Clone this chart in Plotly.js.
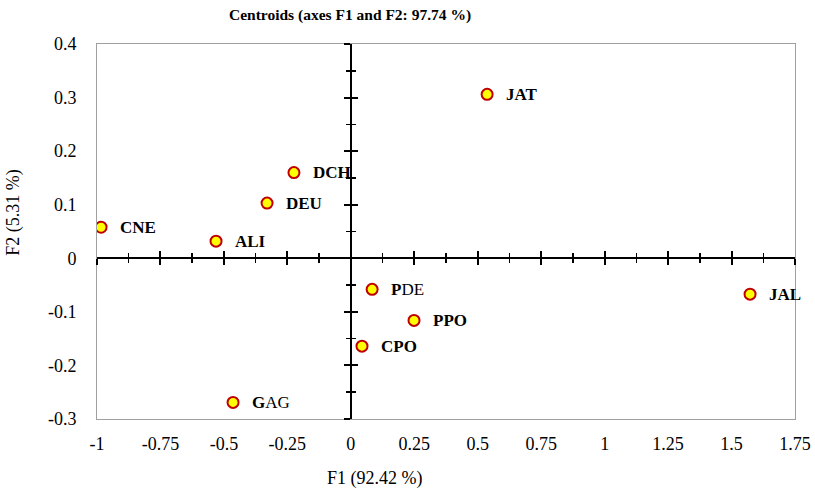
<!DOCTYPE html>
<html>
<head>
<meta charset="utf-8">
<script src="https://cdn.plot.ly/plotly-3.0.1.min.js"></script>
<style>html,body{margin:0;padding:0;background:#fff;}</style>
</head>
<body>
<div id="chart" style="width:815px;height:493px;"></div>
<script>
// Group centroids on the first two discriminant factors
const groups = ['CNE', 'ALI', 'DEU', 'DCH', 'JAT', 'PDE', 'PPO', 'CPO', 'GAG', 'JAL'];
const labels = ['<b>CNE</b>', '<b>ALI</b>', '<b>DEU</b>', '<b>DCH</b>', '<b>JAT</b>',
                '<b>P</b>DE', '<b>PPO</b>', '<b>CPO</b>', '<b>G</b>AG', '<b>JAL</b>'];
const f1 = [-0.984, -0.531, -0.330, -0.224, 0.537, 0.084, 0.249, 0.044, -0.464, 1.573];
const f2 = [0.058, 0.032, 0.103, 0.160, 0.306, -0.058, -0.116, -0.164, -0.269, -0.067];

const xRange = [-1, 1.75];
const yRange = [-0.3, 0.4];
const xTicks = [-1, -0.75, -0.5, -0.25, 0, 0.25, 0.5, 0.75, 1, 1.25, 1.5, 1.75];
const xTickText = ['-1', '-0.75', '-0.5', '-0.25', '0', '0.25', '0.5', '0.75', '1', '1.25', '1.5', '1.75'];
const yTicks = [-0.3, -0.2, -0.1, 0, 0.1, 0.2, 0.3, 0.4];
const yTickText = ['-0.3', '-0.2', '-0.1', '0', '0.1', '0.2', '0.3', '0.4'];

const FONT = 'Liberation Serif, Times New Roman, serif';

// fraction of each domain where the other axis' zero sits
const xZeroPos = (0 - yRange[0]) / (yRange[1] - yRange[0]);
const yZeroPos = (0 - xRange[0]) / (xRange[1] - xRange[0]);

const points = {
  type: 'scatter', mode: 'markers',
  x: f1, y: f2, text: groups, hoverinfo: 'text',
  marker: {size: 11, color: '#ffff00', line: {color: '#c00000', width: 2}},
  showlegend: false
};

// empty traces so the crossing axes get their own subplots
const holder = (xa, ya) => ({type: 'scatter', x: [], y: [], xaxis: xa, yaxis: ya,
                             showlegend: false, hoverinfo: 'skip'});

// crossing axis through zero, ticks on one side
function crossX(side) {
  return {
    overlaying: 'x', anchor: 'free', position: xZeroPos, range: xRange,
    showline: true, linecolor: '#000', linewidth: 2,
    tickmode: 'linear', tick0: 0, dtick: 0.25,
    ticks: side, ticklen: 6, tickwidth: 2, tickcolor: '#000',
    minor: {ticks: side, ticklen: 4, tickwidth: 1.5, tickcolor: '#000', dtick: 0.125, tick0: 0, showgrid: false},
    showticklabels: false, showgrid: false, zeroline: false, fixedrange: true
  };
}
function crossY(side) {
  return {
    overlaying: 'y', anchor: 'free', position: yZeroPos, range: yRange,
    showline: true, linecolor: '#000', linewidth: 2,
    tickmode: 'linear', tick0: 0, dtick: 0.1,
    ticks: side, ticklen: 6, tickwidth: 2, tickcolor: '#000',
    minor: {ticks: side, ticklen: 4, tickwidth: 1.5, tickcolor: '#000', dtick: 0.05, tick0: 0, showgrid: false},
    showticklabels: false, showgrid: false, zeroline: false, fixedrange: true
  };
}

const annotations = groups.map((g, i) => ({
  x: f1[i], y: f2[i], xref: 'x', yref: 'y',
  text: labels[i], showarrow: false,
  xanchor: 'left', yanchor: 'middle', xshift: 17, yshift: 0,
  font: {family: FONT, size: 17, color: '#000'}
}));

annotations.push({
  text: 'F1 (92.42 %)', xref: 'paper', yref: 'paper',
  x: (375 - 97) / 698, y: 0, yshift: -59,
  xanchor: 'center', yanchor: 'middle', showarrow: false,
  font: {family: FONT, size: 18, color: '#000'}
});
annotations.push({
  text: 'F2 (5.31 %)', xref: 'paper', yref: 'paper',
  x: 0, y: 0.55, xshift: -83, textangle: -90,
  xanchor: 'center', yanchor: 'middle', showarrow: false,
  font: {family: FONT, size: 18, color: '#000'}
});

const layout = {
  width: 815, height: 493,
  margin: {l: 97, r: 20, t: 44, b: 74},
  paper_bgcolor: '#fff', plot_bgcolor: '#fff',
  font: {family: FONT, size: 18, color: '#000'},
  title: {
    text: '<b>Centroids (axes F1 and F2: 97.74 %)</b>',
    x: 350 / 815, xanchor: 'center', xref: 'container',
    y: 1 - 15 / 493, yanchor: 'middle', yref: 'container',
    font: {family: FONT, size: 15.5, color: '#000'}
  },
  xaxis: {
    range: xRange, tickmode: 'array', tickvals: xTicks, ticktext: xTickText,
    ticks: 'outside', ticklen: 8, tickcolor: 'rgba(0,0,0,0)',
    tickfont: {family: FONT, size: 18, color: '#000'},
    showline: true, mirror: true, linecolor: '#a0a0a0', linewidth: 1,
    showgrid: false, zeroline: false, fixedrange: true
  },
  yaxis: {
    range: yRange, tickmode: 'array', tickvals: yTicks, ticktext: yTickText,
    ticks: 'outside', ticklen: 16, tickcolor: 'rgba(0,0,0,0)',
    tickfont: {family: FONT, size: 18, color: '#000'},
    showline: true, mirror: true, linecolor: '#a0a0a0', linewidth: 1,
    showgrid: false, zeroline: false, fixedrange: true
  },
  xaxis2: crossX('outside'),
  xaxis3: crossX('inside'),
  yaxis2: crossY('outside'),
  yaxis3: crossY('inside'),
  annotations: annotations
};

Plotly.newPlot('chart', [
  holder('x2', 'y'), holder('x3', 'y'), holder('x', 'y2'), holder('x', 'y3'),
  points
], layout, {displayModeBar: false, staticPlot: true});
</script>
</body>
</html>
